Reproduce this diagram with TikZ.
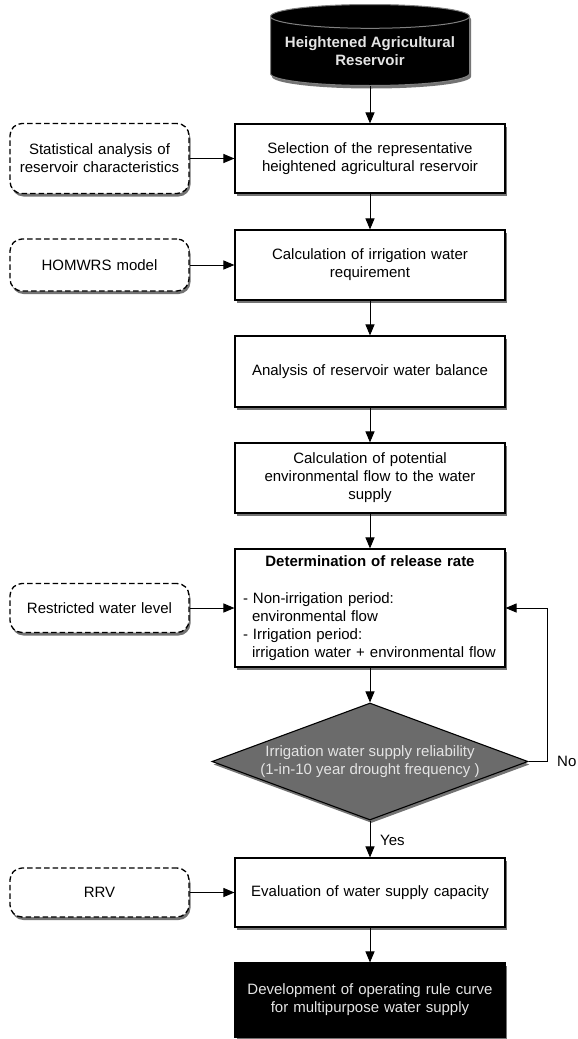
\documentclass[tikz,border=0pt]{standalone}
\usepackage{fontspec}
\setmainfont{Liberation Sans}
\usetikzlibrary{shapes.geometric,arrows.meta,shadows}

\definecolor{decisiongray}{HTML}{6B6B6B}
\definecolor{lighttext}{HTML}{E4E4E4}

\tikzset{
	boxshadow/.style={drop shadow={shadow xshift=1.5pt, shadow yshift=-3pt, opacity=0.55, fill=black}},
	boxfont/.style={font=\fontsize{15}{18}\selectfont},
	procbox/.style={draw, line width=1.1pt, fill=white, boxshadow, boxfont, minimum width=270pt, text width=250pt, align=center, inner sep=0pt},
	inputbox/.style={draw, line width=1.3pt, dash pattern=on 5.5pt off 3pt, rounded corners=12pt, fill=white, boxshadow, boxfont, minimum width=179pt, text width=170pt, align=center, inner sep=0pt},
	arr/.style={line width=1pt, -{Triangle[length=11pt, width=9pt]}},
}

\begin{document}
\begin{tikzpicture}[x=1pt, y=-1pt]
	\useasboundingbox (0,0) rectangle (578,1039);

	% main column
	\node (res) [cylinder, shape border rotate=90, aspect=0.14, draw=gray, fill=black, line width=1pt, boxshadow, minimum width=199pt, minimum height=81pt, inner sep=0pt, align=center, text=lighttext, font=\bfseries\fontsize{15}{18}\selectfont, anchor=south] at (370,86) {Heightened Agricultural\\Reservoir};
	\node (sel) [procbox, minimum height=69pt] at (370,158.5) {Selection of the representative\\heightened agricultural reservoir};
	\node (calc) [procbox, minimum height=70pt] at (370,265) {Calculation of irrigation water\\requirement};
	\node (bal) [procbox, minimum height=71pt] at (370,371.5) {Analysis of reservoir water balance};
	\node (eflow) [procbox, minimum height=70pt] at (370,478) {Calculation of potential\\environmental flow to the water\\supply};
	\node (rel) [procbox, minimum height=118pt, text width=254pt, align=left] at (370,608) {
		{\centering\textbf{Determination of release rate}\par}
		\vspace{19pt}
		- Non-irrigation period:\\
		\hspace*{9pt}environmental flow\\
		- Irrigation period:\\
		\hspace*{9pt}irrigation water + environmental flow
	};
	\node (rely) [diamond, aspect=2.7, draw, line width=1.1pt, fill=decisiongray, boxshadow, boxfont, minimum width=316pt, minimum height=117pt, inner sep=0pt, align=center, text=lighttext] at (370,761.5) {Irrigation water supply reliability\\(1-in-10 year drought frequency )};
	\node (eval) [procbox, minimum height=69pt] at (370,892.5) {Evaluation of water supply capacity};
	\node (dev) [procbox, minimum height=74pt, fill=black, text=lighttext] at (370,1000) {Development of operating rule curve\\for multipurpose water supply};

	% inputs
	\node (stat) [inputbox, minimum height=70pt] at (99.5,158.5) {Statistical analysis of\\reservoir characteristics};
	\node (hom) [inputbox, minimum height=52pt] at (99.5,265) {HOMWRS model};
	\node (rwl) [inputbox, minimum height=49pt] at (99.5,608) {Restricted water level};
	\node (rrv) [inputbox, minimum height=49pt] at (99.5,892.5) {RRV};

	\draw [arr] (res) -- (sel);
	\draw [arr] (sel) -- (calc);
	\draw [arr] (calc) -- (bal);
	\draw [arr] (bal) -- (eflow);
	\draw [arr] (eflow) -- (rel);
	\draw [arr] (rel) -- (rely);
	\draw [arr] (rely) -- (eval);
	\draw [arr] (eval) -- (dev);

	\draw [arr] (stat) -- (sel);
	\draw [arr] (hom) -- (calc);
	\draw [arr] (rwl) -- (rel);
	\draw [arr] (rrv) -- (eval);

	% loop back
	\coordinate (fb) at (547,761.5);
	\draw [arr] (rely.east) -- (fb) |- (rel.east);
	\node (nolbl) [boxfont, anchor=west, inner sep=0pt] at ([xshift=10pt]fb) {No};
	\node (yeslbl) [boxfont, anchor=west, inner sep=0pt] at (380,840) {Yes};
\end{tikzpicture}
\end{document}
